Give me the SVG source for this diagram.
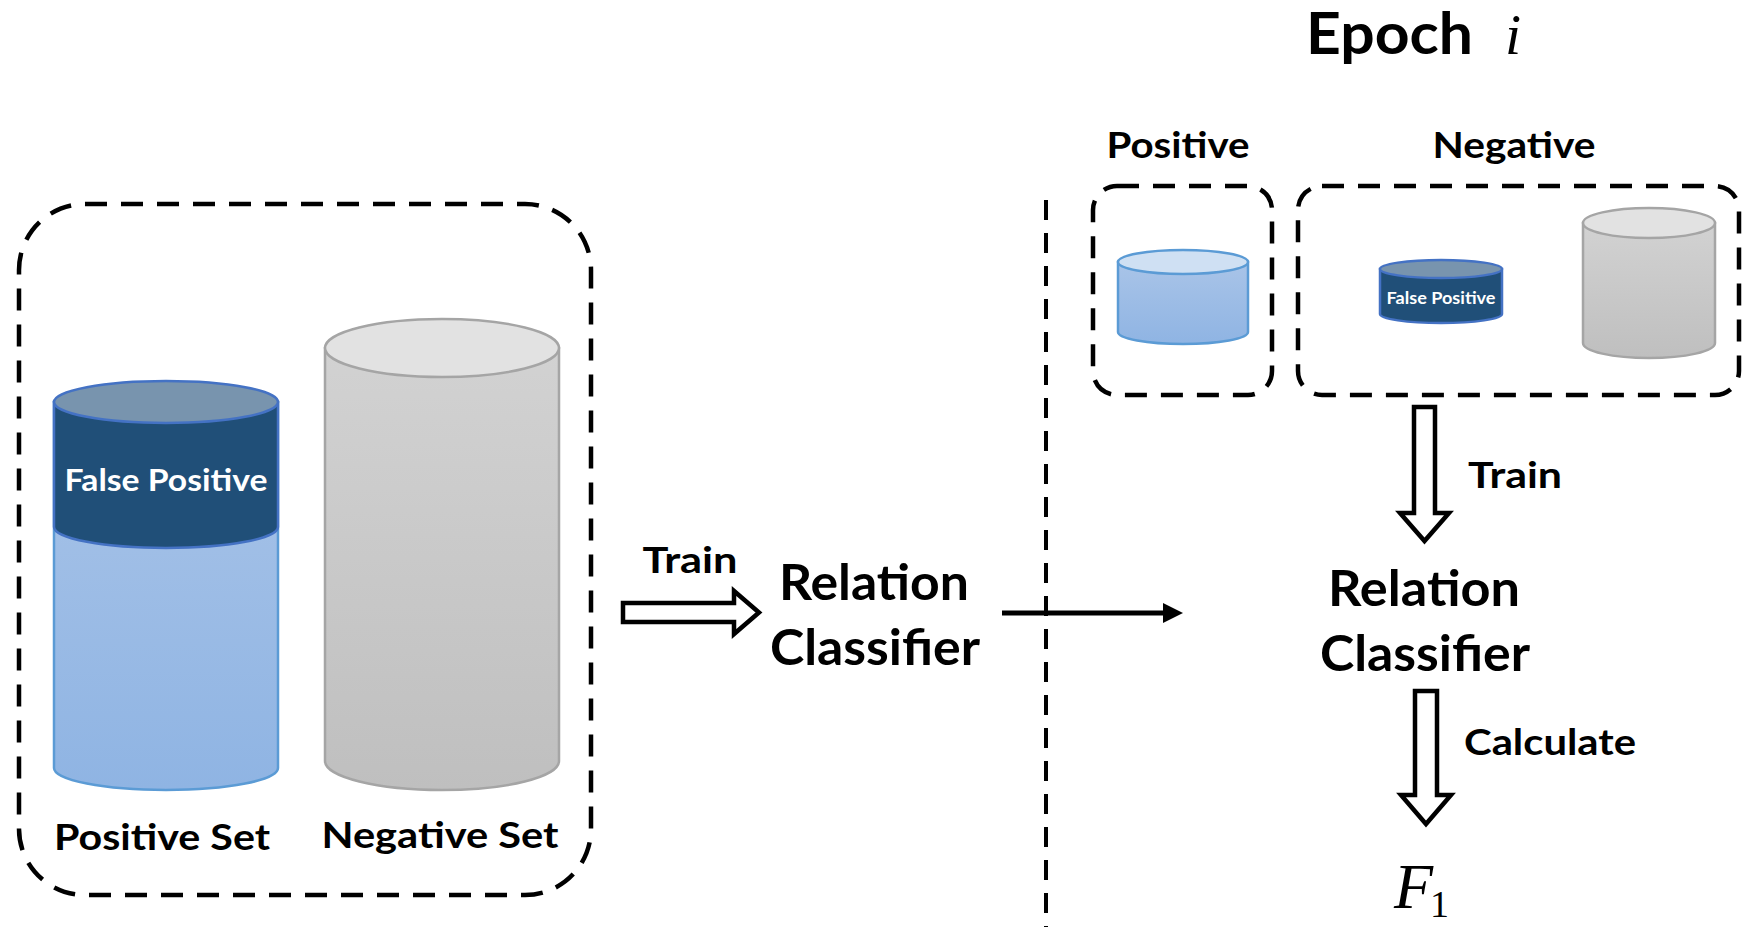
<svg xmlns="http://www.w3.org/2000/svg" width="1750" height="927" viewBox="0 0 1750 927">
  <defs>
    <linearGradient id="blueBody" x1="0" y1="0" x2="0" y2="1">
      <stop offset="0" stop-color="#a9c4e8"/>
      <stop offset="1" stop-color="#8fb4e3"/>
    </linearGradient>
    <linearGradient id="grayBody" x1="0" y1="0" x2="0" y2="1">
      <stop offset="0" stop-color="#d2d2d2"/>
      <stop offset="1" stop-color="#bfbfbf"/>
    </linearGradient>
    <marker id="arrowHead" markerWidth="4" markerHeight="4" refX="0" refY="2" orient="auto" markerUnits="strokeWidth">
      <path d="M0,0 L4,2 L0,4 Z" fill="#000"/>
    </marker>
    <style>
      .dash { fill: none; stroke: #000; stroke-width: 4.5; stroke-dasharray: 22 14; }
      .hollow { fill: #fff; stroke: #000; stroke-width: 4.5; stroke-linejoin: miter; }
      .lbl { font-family: Lato, "Liberation Sans", sans-serif; font-weight: bold; fill: #000; }
      .math { font-family: "Liberation Serif", "DejaVu Serif", serif; font-style: italic; fill: #000; }
      .blueEdge { stroke: #5b9bd5; stroke-width: 2.5; }
      .darkEdge { stroke: #4472c4; stroke-width: 2.5; }
      .grayEdge { stroke: #a5a5a5; stroke-width: 2.5; }
    </style>
  </defs>
  <rect width="1750" height="927" fill="#fff"/>

  <!-- Left: full training data -->
  <g id="training-data">
    <rect class="dash" x="19" y="204" width="572" height="691" rx="66" ry="66"/>

    <!-- positive set cylinder with false-positive band -->
    <g id="positive-set">
      <path d="M54,402 V768 A112,22 0 0 0 278,768 V402 Z" fill="url(#blueBody)" class="blueEdge"/>
      <path d="M54,402 V527 A112,21 0 0 0 278,527 V402 Z" fill="#204f78" class="darkEdge"/>
      <ellipse cx="166" cy="402" rx="112" ry="21" fill="#7894ae" class="darkEdge"/>
      <text class="lbl" x="166" y="491" font-size="31" style="fill:#fff" text-anchor="middle" textLength="203" lengthAdjust="spacingAndGlyphs">False Positive</text>
      <text class="lbl" x="162" y="850" font-size="37" text-anchor="middle" textLength="216" lengthAdjust="spacingAndGlyphs">Positive Set</text>
    </g>

    <!-- negative set cylinder -->
    <g id="negative-set">
      <path d="M325,348 V761 A117,29 0 0 0 559,761 V348 Z" fill="url(#grayBody)" class="grayEdge"/>
      <ellipse cx="442" cy="348" rx="117" ry="29" fill="#e2e2e2" class="grayEdge"/>
      <text class="lbl" x="440" y="848" font-size="37" text-anchor="middle" textLength="237" lengthAdjust="spacingAndGlyphs">Negative Set</text>
    </g>
  </g>

  <g id="relation-classifier-left">
    <text class="lbl" x="874" y="600" font-size="50" text-anchor="middle" textLength="190" lengthAdjust="spacingAndGlyphs">Relation</text>
    <text class="lbl" x="875" y="665" font-size="50" text-anchor="middle" textLength="210" lengthAdjust="spacingAndGlyphs">Classifier</text>
  </g>

  <!-- Right: one epoch -->
  <g id="epoch-title">
    <text class="lbl" x="1306" y="54" font-size="58" textLength="167" lengthAdjust="spacingAndGlyphs">Epoch</text>
    <text class="math" x="1505" y="54" font-size="58">i</text>
  </g>

  <g id="epoch-positive">
    <text class="lbl" x="1178" y="158" font-size="37" text-anchor="middle" textLength="143" lengthAdjust="spacingAndGlyphs">Positive</text>
    <rect class="dash" x="1093" y="186" width="179" height="209" rx="24" ry="24"/>
    <path d="M1118,262 V332 A65,12 0 0 0 1248,332 V262 Z" fill="url(#blueBody)" class="blueEdge"/>
    <ellipse cx="1183" cy="262" rx="65" ry="12" fill="#cfe0f3" class="blueEdge"/>
  </g>

  <g id="epoch-negative">
    <text class="lbl" x="1514" y="158" font-size="37" text-anchor="middle" textLength="163" lengthAdjust="spacingAndGlyphs">Negative</text>
    <rect class="dash" x="1298" y="186" width="441" height="209" rx="24" ry="24"/>
    <g id="false-positive-small">
      <path d="M1380,269 V314 A61,9 0 0 0 1502,314 V269 Z" fill="#204f78" class="darkEdge"/>
      <ellipse cx="1441" cy="269" rx="61" ry="9" fill="#7894ae" class="darkEdge"/>
      <text class="lbl" x="1441" y="304" font-size="17" style="fill:#fff" text-anchor="middle" textLength="109" lengthAdjust="spacingAndGlyphs">False Positive</text>
    </g>
    <g id="negative-small">
      <path d="M1583,223 V343 A66,15 0 0 0 1715,343 V223 Z" fill="url(#grayBody)" class="grayEdge"/>
      <ellipse cx="1649" cy="223" rx="66" ry="15" fill="#e2e2e2" class="grayEdge"/>
    </g>
  </g>

  <g id="relation-classifier-right">
    <text class="lbl" x="1424" y="606" font-size="50" text-anchor="middle" textLength="192" lengthAdjust="spacingAndGlyphs">Relation</text>
    <text class="lbl" x="1425" y="671" font-size="50" text-anchor="middle" textLength="210" lengthAdjust="spacingAndGlyphs">Classifier</text>
  </g>

  <g id="f1-score">
    <text class="math" x="1394" y="908" font-size="64">F</text>
    <text font-family="'Liberation Serif', 'DejaVu Serif', serif" x="1430" y="917" font-size="38" fill="#000">1</text>
  </g>

  <!-- Connectors -->
  <g id="connectors">
    <line x1="1046" y1="200" x2="1046" y2="927" stroke="#000" stroke-width="4" stroke-dasharray="20 13"/>
    <polygon class="hollow" points="623,603 734,603 734,591 759,612.5 734,634 734,622 623,622"/>
    <text class="lbl" x="690" y="573" font-size="37" text-anchor="middle" textLength="95" lengthAdjust="spacingAndGlyphs">Train</text>
    <line x1="1002" y1="613" x2="1163" y2="613" stroke="#000" stroke-width="5" marker-end="url(#arrowHead)"/>
    <polygon class="hollow" points="1414,407 1435,407 1435,513 1449,513 1424.5,541 1400,513 1414,513"/>
    <text class="lbl" x="1468" y="488" font-size="37" textLength="94" lengthAdjust="spacingAndGlyphs">Train</text>
    <polygon class="hollow" points="1415,691 1437,691 1437,795 1451,795 1426,824 1401,795 1415,795"/>
    <text class="lbl" x="1464" y="755" font-size="37" textLength="172" lengthAdjust="spacingAndGlyphs">Calculate</text>
  </g>
</svg>
